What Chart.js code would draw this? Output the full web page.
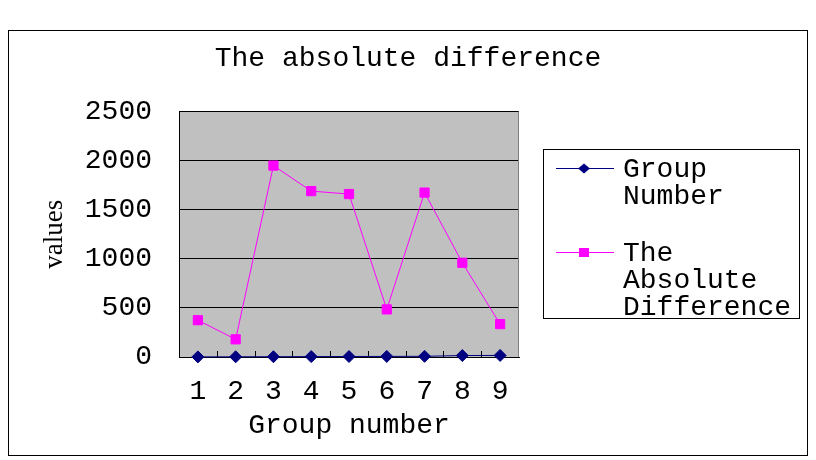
<!DOCTYPE html>
<html>
<head>
<meta charset="utf-8">
<script src="https://cdn.jsdelivr.net/npm/chart.js@4"></script>
<style>
  html, body { margin: 0; padding: 0; background: #fff; }
</style>
</head>
<body>
<canvas id="absDiffGraph" width="816" height="460"></canvas>
<script>
const groups = ['1', '2', '3', '4', '5', '6', '7', '8', '9'];
const groupNumber = [1, 2, 3, 4, 5, 6, 7, 15, 16];
const absoluteDifference = [375, 180, 1950, 1690, 1660, 485, 1675, 960, 335];
const yTicks = [0, 500, 1000, 1500, 2000, 2500];

const monoFont = "'Liberation Mono', monospace";
const serifFont = "'Liberation Serif', serif";

// background, outer frame, grey plot area and the little category ticks
const chartFrame = {
    id: 'chartFrame',
    beforeDraw(chart) {
        const { ctx, chartArea: a } = chart;
        ctx.save();
        ctx.fillStyle = '#fff';
        ctx.fillRect(0, 0, chart.width, chart.height);
        ctx.strokeStyle = '#000';
        ctx.lineWidth = 1;
        ctx.strokeRect(8.5, 30.5, 799, 425);
        ctx.fillStyle = '#c0c0c0';
        ctx.fillRect(a.left, a.top, a.width, a.height);
        ctx.restore();
    },
    beforeDatasetsDraw(chart) {
        const { ctx, chartArea: a, scales: { x } } = chart;
        ctx.save();
        ctx.lineWidth = 1;
        ctx.strokeStyle = '#808080';
        ctx.beginPath();
        ctx.moveTo(a.right - 0.5, a.top);
        ctx.lineTo(a.right - 0.5, a.bottom);
        ctx.stroke();
        ctx.strokeStyle = '#000';
        ctx.beginPath();
        for (let i = 1; i < groups.length; i++) {
            const px = Math.round(x.getPixelForValue(i - 0.5)) + 0.5;
            ctx.moveTo(px, a.bottom);
            ctx.lineTo(px, a.bottom - 6);
        }
        ctx.stroke();
        ctx.restore();
    }
};

// boxed legend on the right, labels wrapped word by word
const boxLegend = {
    id: 'boxLegend',
    afterDraw(chart) {
        const ctx = chart.ctx;
        const rows = [168, 252];
        ctx.save();
        ctx.lineWidth = 1;
        ctx.strokeStyle = '#000';
        ctx.strokeRect(543.5, 149.5, 256, 169);
        ctx.font = '28px ' + monoFont;
        ctx.textBaseline = 'alphabetic';
        chart.data.datasets.forEach((ds, i) => {
            const y = rows[i] + 0.5;
            ctx.strokeStyle = ds.borderColor;
            ctx.fillStyle = ds.backgroundColor;
            ctx.beginPath();
            ctx.moveTo(556, y);
            ctx.lineTo(614, y);
            ctx.stroke();
            ctx.beginPath();
            if (ds.pointStyle === 'rectRot') {
                ctx.moveTo(584 - 6, y);
                ctx.lineTo(584, y - 5);
                ctx.lineTo(584 + 6, y);
                ctx.lineTo(584, y + 5);
                ctx.closePath();
            } else {
                ctx.rect(584 - 5, y - 4.5, 10, 9);
            }
            ctx.fill();
            ctx.fillStyle = '#000';
            ds.label.split(' ').forEach((word, j) => {
                ctx.fillText(word, 623, rows[i] + 9 + j * 27);
            });
        });
        ctx.restore();
    }
};

const absDiff = new Chart(
    document.getElementById('absDiffGraph'),
    {
        type: 'line',
        data: {
            labels: groups,
            datasets: [
                {
                    label: 'Group Number',
                    data: groupNumber,
                    borderColor: '#000080',
                    backgroundColor: '#000080',
                    borderWidth: 1,
                    pointStyle: 'rectRot',
                    pointRadius: 6,
                    pointBorderWidth: 1,
                    clip: false,
                },
                {
                    label: 'The Absolute Difference',
                    data: absoluteDifference,
                    borderColor: '#ff00ff',
                    backgroundColor: '#ff00ff',
                    borderWidth: 1,
                    pointStyle: 'rect',
                    pointRadius: 6.5,
                    pointBorderWidth: 1,
                    clip: false,
                },
            ],
        },
        options: {
            responsive: false,
            animation: false,
            layout: { padding: 0 },
            plugins: {
                legend: { display: false },
                tooltip: { enabled: false },
                title: {
                    display: true,
                    text: 'The absolute difference',
                    color: '#000',
                    font: { family: monoFont, size: 28, weight: 'normal' },
                    padding: { top: 42, bottom: 36 },
                },
            },
            scales: {
                x: {
                    offset: true,
                    grid: { display: false },
                    border: { color: '#000' },
                    ticks: {
                        color: '#000',
                        font: { family: monoFont, size: 28 },
                        padding: 10,
                        maxRotation: 0,
                        autoSkip: false,
                    },
                    title: {
                        display: true,
                        text: 'Group number',
                        color: '#000',
                        font: { family: monoFont, size: 28 },
                        padding: { top: 0, bottom: 18 },
                    },
                    afterFit: scale => { scale.height = 103; },
                },
                y: {
                    min: 0,
                    max: 2500,
                    afterBuildTicks: scale => { scale.ticks = yTicks.map(v => ({ value: v })); },
                    grid: { color: '#000', drawTicks: false },
                    border: { color: '#000' },
                    ticks: {
                        color: '#000',
                        font: { family: monoFont, size: 28 },
                        padding: 27,
                        callback: value => String(value),
                    },
                    title: {
                        display: true,
                        text: 'values',
                        color: '#000',
                        font: { family: serifFont, size: 27 },
                        padding: { top: 39, bottom: 0 },
                    },
                    afterFit: scale => { scale.width = 179; },
                },
                yRight: {
                    position: 'right',
                    grid: { display: false },
                    border: { display: false },
                    ticks: { display: false },
                    afterFit: scale => { scale.width = 297; },
                },
            },
        },
        plugins: [chartFrame, boxLegend],
    }
);
</script>
</body>
</html>
